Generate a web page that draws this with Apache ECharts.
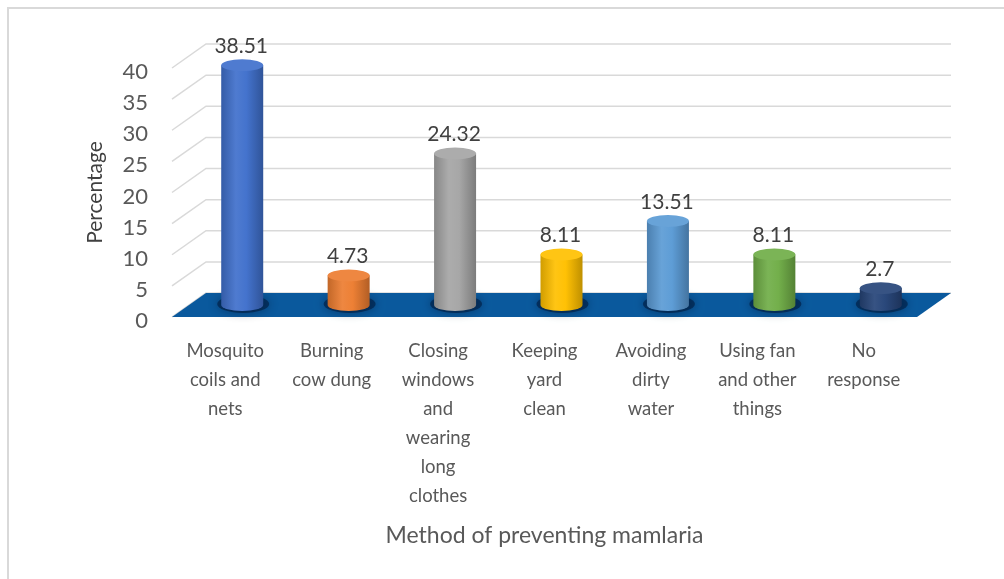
<!DOCTYPE html>
<html>
<head>
<meta charset="utf-8">
<script src="https://cdn.jsdelivr.net/npm/echarts@6/dist/echarts.min.js"></script>
<style>
  html, body { margin: 0; padding: 0; background: #ffffff; }
  #chart { width: 1004px; height: 579px; }
</style>
</head>
<body>
<div id="chart"></div>
<script>
// Survey answers: method used to prevent malaria (percent of respondents)
const categories = [
  'Mosquito\ncoils and\nnets',
  'Burning\ncow dung',
  'Closing\nwindows\nand\nwearing\nlong\nclothes',
  'Keeping\nyard\nclean',
  'Avoiding\ndirty\nwater',
  'Using fan\nand other\nthings',
  'No\nresponse'
];
const percentages = [38.51, 4.73, 24.32, 8.11, 13.51, 8.11, 2.7];
const barColors = ['#4070CC', '#ED7D31', '#A5A5A5', '#FFC000', '#5B9BD5', '#70AD47', '#264478'];
const yTicks = [0, 5, 10, 15, 20, 25, 30, 35, 40];

const FONT = 'Lato, "Open Sans", sans-serif';
const TEXT_GREY = '#595959';
// depth of the pseudo-3D box (front edge -> back wall), in pixels
const DEPTH_X = 34, DEPTH_Y = -24;
const CYL_RX = 21, CYL_RY = 6;

function hexToRgb(hex) {
  const n = parseInt(hex.slice(1), 16);
  return [(n >> 16) & 255, (n >> 8) & 255, n & 255];
}
// f < 0 darkens towards black, f > 0 lightens towards white
function shade(hex, f) {
  const c = hexToRgb(hex).map(v => f < 0 ? v * (1 + f) : v + (255 - v) * f);
  return 'rgb(' + c.map(v => Math.round(v)).join(',') + ')';
}
function ellipsePath(cx, cy, rx, ry) {
  return 'M' + (cx - rx) + ' ' + cy +
    ' A' + rx + ' ' + ry + ' 0 1 0 ' + (cx + rx) + ' ' + cy +
    ' A' + rx + ' ' + ry + ' 0 1 0 ' + (cx - rx) + ' ' + cy + ' Z';
}

// back wall gridlines with their diagonal side-wall segments
function renderWall(params, api) {
  const cs = params.coordSys;
  const y = api.coord([0, api.value(1)])[1];
  const left = cs.x, right = cs.x + cs.width;
  return {
    type: 'polyline',
    shape: { points: [[left, y], [left + DEPTH_X, y + DEPTH_Y], [right + DEPTH_X, y + DEPTH_Y]] },
    style: { stroke: '#d9d9d9', lineWidth: 1.5, fill: null }
  };
}

// the floor slab at value 0
function renderFloor(params, api) {
  const cs = params.coordSys;
  const y = api.coord([0, 0])[1];
  const left = cs.x, right = cs.x + cs.width;
  return {
    type: 'polygon',
    shape: { points: [[left, y], [left + DEPTH_X, y + DEPTH_Y], [right + DEPTH_X, y + DEPTH_Y], [right, y]] },
    style: { fill: '#0a599d' }
  };
}

// one cylinder per category, standing in the middle of the floor depth
function renderCylinder(params, api) {
  const idx = params.dataIndex;
  const value = api.value(1);
  const base = api.coord([api.value(0), 0]);
  const top = api.coord([api.value(0), value]);
  const cx = base[0] + DEPTH_X / 2;
  const yb = base[1] + DEPTH_Y / 2;
  const yt = top[1] + DEPTH_Y / 2;
  const color = barColors[idx];
  const rx = CYL_RX, ry = CYL_RY;
  const body = 'M' + (cx - rx) + ' ' + yt +
    ' L' + (cx - rx) + ' ' + yb +
    ' A' + rx + ' ' + ry + ' 0 0 0 ' + (cx + rx) + ' ' + yb +
    ' L' + (cx + rx) + ' ' + yt + ' Z';
  return {
    type: 'group',
    children: [
      {
        type: 'path',
        shape: { pathData: ellipsePath(cx + 1, yb - 1, rx + 5, ry + 3) },
        style: { fill: 'rgba(0,22,55,0.55)', shadowBlur: 10, shadowColor: 'rgba(0,20,50,0.8)' }
      },
      {
        type: 'path',
        shape: { pathData: body },
        style: {
          fill: new echarts.graphic.LinearGradient(0, 0, 1, 0, [
            { offset: 0, color: shade(color, -0.18) },
            { offset: 0.35, color: shade(color, 0.08) },
            { offset: 0.6, color: shade(color, 0.02) },
            { offset: 1, color: shade(color, -0.25) }
          ])
        }
      },
      {
        type: 'path',
        shape: { pathData: ellipsePath(cx, yt, rx, ry) },
        style: { fill: shade(color, 0.08) }
      },
      {
        type: 'text',
        style: {
          text: String(value),
          x: cx - 1,
          y: yt - 19,
          align: 'center',
          verticalAlign: 'middle',
          fontFamily: FONT,
          fontSize: 21,
          fill: '#404040'
        }
      }
    ]
  };
}

const chart = echarts.init(document.getElementById('chart'), null, { renderer: 'canvas' });
chart.setOption({
  backgroundColor: '#ffffff',
  animation: false,
  graphic: [{
    type: 'rect',
    shape: { x: 8, y: 8, width: 1100, height: 700 },
    style: { fill: null, stroke: '#d9d9d9', lineWidth: 2 },
    silent: true
  }],
  grid: { left: 172, right: 87, top: 68, bottom: 262, containLabel: false },
  xAxis: {
    type: 'category',
    data: categories,
    axisLine: { show: false },
    axisTick: { show: false },
    axisLabel: {
      interval: 0,
      margin: 20,
      fontFamily: FONT,
      fontSize: 18.5,
      lineHeight: 29,
      color: TEXT_GREY,
      align: 'center'
    },
    name: 'Method of preventing mamlaria',
    nameLocation: 'middle',
    nameGap: 207,
    nameTextStyle: { fontFamily: FONT, fontSize: 23, color: TEXT_GREY }
  },
  yAxis: {
    type: 'value',
    min: 0,
    max: 40,
    interval: 5,
    axisLine: { show: false },
    axisTick: { show: false },
    splitLine: { show: false },
    axisLabel: {
      margin: 24,
      fontFamily: FONT,
      fontSize: 22,
      color: TEXT_GREY,
      verticalAlign: 'top',
      lineHeight: 8
    },
    name: 'Percentage',
    nameLocation: 'middle',
    nameGap: 66,
    nameTextStyle: { fontFamily: FONT, fontSize: 21, color: '#404040' }
  },
  series: [
    {
      type: 'custom',
      name: 'wall',
      renderItem: renderWall,
      data: yTicks.map(v => [0, v]),
      z: 1,
      silent: true
    },
    {
      type: 'custom',
      name: 'floor',
      renderItem: renderFloor,
      data: [[0, 0]],
      z: 2,
      silent: true
    },
    {
      type: 'custom',
      name: 'Percentage',
      renderItem: renderCylinder,
      data: percentages.map((v, i) => [i, v]),
      z: 3
    }
  ]
});
</script>
</body>
</html>
